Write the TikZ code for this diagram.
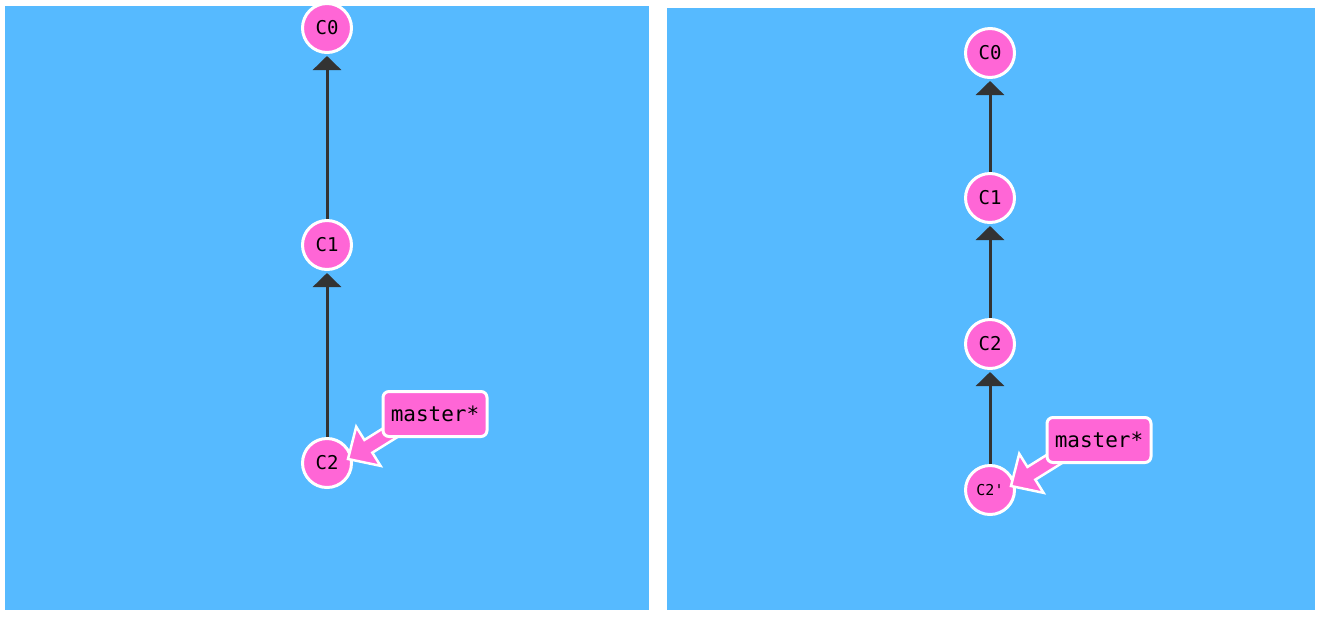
\documentclass[tikz,border=0pt]{standalone}
\usepackage{fontspec}
\setmonofont{DejaVu Sans Mono}
\usetikzlibrary{arrows.meta,calc}
\definecolor{bgblue}{HTML}{56BAFF}
\definecolor{cpink}{HTML}{FF66D6}
\definecolor{darkline}{HTML}{333333}
\newcommand\fatarrow[2]{%
  \path ($(#1)!24pt!(#2)$) coordinate (fa-b);
  \draw[fat] (#1) -- ($(fa-b)!23pt!90:(#1)$) -- ($(fa-b)!7.5pt!90:(#1)$)
    -- ($(#2)!7.5pt!90:(fa-b)$) -- ($(#2)!7.5pt!-90:(fa-b)$)
    -- ($(fa-b)!7.5pt!-90:(#1)$) -- ($(fa-b)!23pt!-90:(#1)$) -- cycle;}
\begin{document}
\begin{tikzpicture}[x=1pt,y=-1pt,
  panel/.style={fill=bgblue,draw=none},
  commit/.style={circle,fill=cpink,draw=white,line width=3pt,minimum size=49pt,inner sep=0pt,font=\ttfamily\fontsize{19}{19}\selectfont,text=black},
  smallcommit/.style={commit,font=\ttfamily\fontsize{15}{15}\selectfont},
  conn/.style={draw=darkline,line width=3pt,-{Triangle[width=28pt,length=14pt]},shorten >=2pt},
  branch/.style={rectangle,rounded corners=6pt,fill=cpink,draw=white,line width=3pt,minimum width=104pt,minimum height=45pt,inner sep=2pt,font=\ttfamily\fontsize{21}{21}\selectfont,text=black},
  fat/.style={fill=cpink,draw=white,line width=2.5pt,line join=miter}]
\useasboundingbox (0,0) rectangle (1324,622);
\fill[white] (0,0) rectangle (1324,622);
\fill[panel] (5,6) rectangle (649,610);
\fill[panel] (667,8) rectangle (1315,610);
% left graph
\node[commit] (l0) at (327,28) {C0};
\node[commit] (l1) at (327,245) {C1};
\node[commit] (l2) at (327,463) {C2};
\draw[conn] (l1) -- (l0);
\draw[conn] (l2) -- (l1);
\coordinate (lt) at ($(l2)+(21,-4)$);
\coordinate (le) at ($(l2)+(82,-42)$);
\fatarrow{lt}{le}
\node[branch] (lm) at ($(l2)+(108,-49)$) {master*};
% right graph
\node[commit] (r0) at (990,53) {C0};
\node[commit] (r1) at (990,198) {C1};
\node[commit] (r2) at (990,344) {C2};
\node[smallcommit] (r3) at (990,490) {C2'};
\draw[conn] (r1) -- (r0);
\draw[conn] (r2) -- (r1);
\draw[conn] (r3) -- (r2);
\coordinate (rt) at ($(r3)+(21,-4)$);
\coordinate (re) at ($(r3)+(82,-42)$);
\fatarrow{rt}{re}
\node[branch] (rm) at ($(r3)+(109,-50)$) {master*};
\end{tikzpicture}
\end{document}
